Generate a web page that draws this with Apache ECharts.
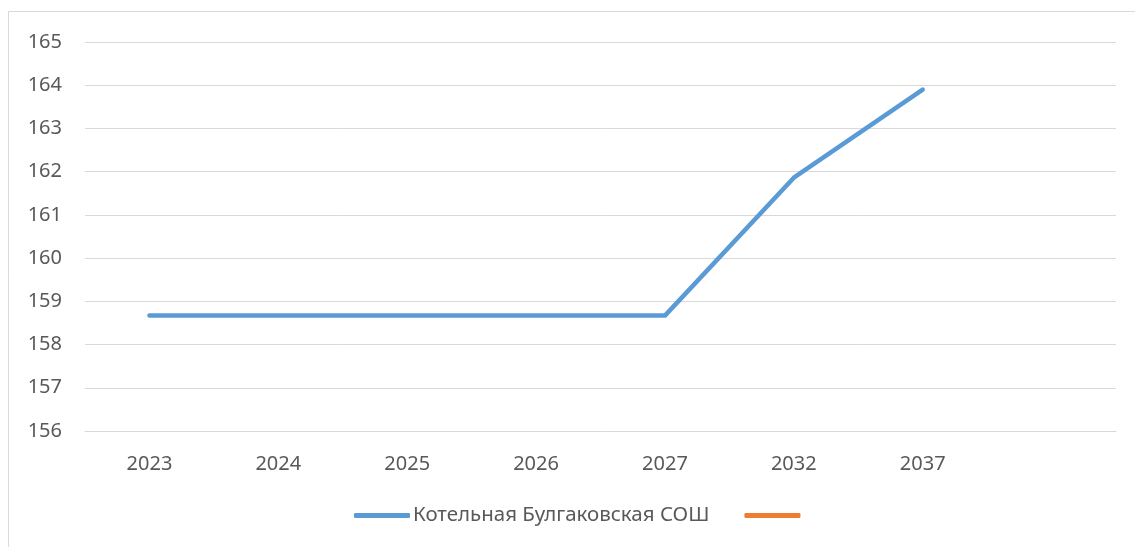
<!DOCTYPE html>
<html><head><meta charset="utf-8">
<script src="https://cdn.jsdelivr.net/npm/echarts@6/dist/echarts.min.js"></script>
<style>html,body{margin:0;padding:0;background:#fff}#c{width:1135px;height:547px}</style>
</head><body><div id="c"></div>
<script>
const categories = ['2023','2024','2025','2026','2027','2032','2037',''];
const seriesName = 'Котельная Булгаковская СОШ';
const values = [158.67,158.67,158.67,158.67,158.67,161.86,163.9,null];
const emptySeries = [null,null,null,null,null,null,null,null];
const yTicks = {min:156,max:165,interval:1};
const chart = echarts.init(document.getElementById('c'));
const font = "'Noto Sans', sans-serif";
chart.setOption({
  animation:false,
  graphic:[{type:'rect',shape:{x:8.5,y:11.5,width:1200,height:600},style:{fill:'none',stroke:'#d9d9d9',lineWidth:1},silent:true}],
  grid:{left:85,right:19,top:42,bottom:116},
  legend:{top:500,left:349,itemWidth:56,itemHeight:5,itemGap:35,icon:'roundRect',
    textStyle:{color:'#595959',fontSize:20.5,fontFamily:font,padding:[0,0,0,-2]},
    data:[{name:seriesName},{name:' '}]},
  xAxis:{type:'category',data:categories,boundaryGap:true,
    axisLine:{lineStyle:{color:'#d9d9d9'}},axisTick:{show:false},
    axisLabel:{color:'#595959',fontSize:20,fontFamily:font,margin:23}},
  yAxis:{type:'value',min:yTicks.min,max:yTicks.max,interval:yTicks.interval,
    axisLine:{show:false},axisTick:{show:false},
    splitLine:{lineStyle:{color:'#d9d9d9',width:1}},
    axisLabel:{color:'#595959',fontSize:20,fontFamily:font,margin:23}},
  series:[
    {name:seriesName,type:'line',data:values,showSymbol:false,symbol:'none',
     lineStyle:{color:'#5b9bd5',width:4.5,cap:'round',join:'round'},itemStyle:{color:'#5b9bd5'}},
    {name:' ',type:'line',data:emptySeries,showSymbol:false,symbol:'none',
     lineStyle:{color:'#ed7d31',width:4.5},itemStyle:{color:'#ed7d31'}}
  ]
});
</script></body></html>
